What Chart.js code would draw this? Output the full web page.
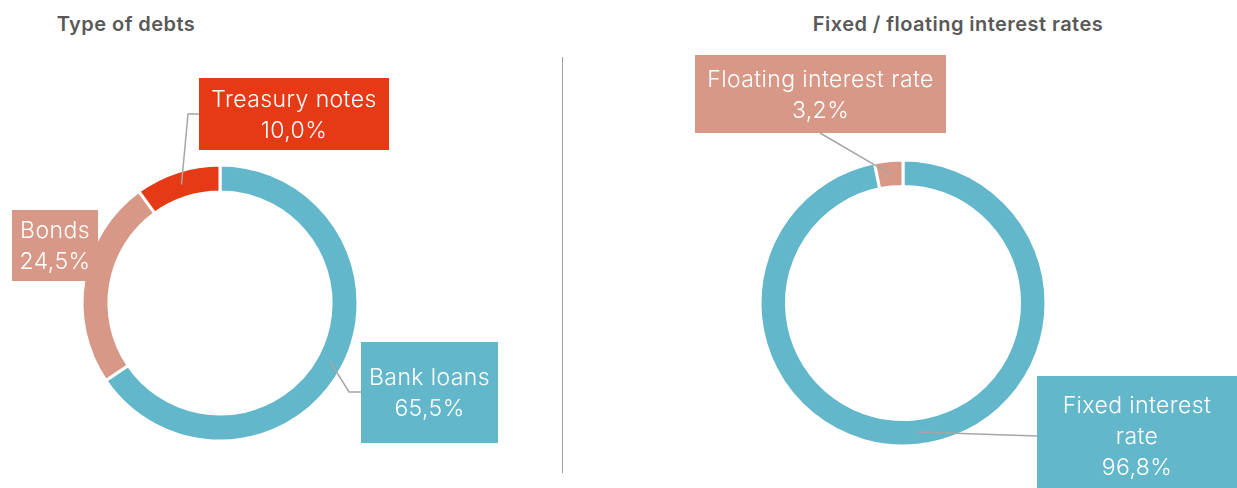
<!DOCTYPE html>
<html>
<head>
<meta charset="utf-8">
<script src="https://cdn.jsdelivr.net/npm/chart.js@4"></script>
<style>
  body { margin: 0; background: #fff; }
  #wrap { position: relative; width: 1237px; height: 488px; overflow: hidden; font-family: Inter, "Noto Sans", sans-serif; }
  .title { position: absolute; top: 12px; font-weight: 600; font-size: 20px; letter-spacing: 0.45px; color: #595959; white-space: nowrap; transform: translateX(-50%); }
  .divider { position: absolute; left: 562px; top: 57px; width: 1px; height: 416px; background: #a0a0a0; }
  .box { position: absolute; top: 0; height: 488px; }
</style>
</head>
<body>
<div id="wrap">
  <div class="title" style="left:126px">Type of debts</div>
  <div class="title" style="left:958px">Fixed / floating interest rates</div>
  <div class="divider"></div>
  <div class="box" style="left:0;width:560px"><canvas id="debtChart"></canvas></div>
  <div class="box" style="left:565px;width:672px"><canvas id="rateChart"></canvas></div>
</div>
<script>
// data
const debtLabels = ['Bank loans', 'Bonds', 'Treasury notes'];
const debtValues = [65.5, 24.5, 10.0];
const rateLabels = ['Fixed interest rate', 'Floating interest rate'];
const rateValues = [96.8, 3.2];

const BLUE = '#63b7cb';
const PINK = '#d89887';
const RED = '#e63a16';

function pct(v) {
    return v.toFixed(1).replace('.', ',') + '%';
}

function wrapText(ctx, text, maxWidth) {
    if (!maxWidth) return [text];
    const words = text.split(' ');
    const lines = [];
    let line = '';
    words.forEach(w => {
        const test = line ? line + ' ' + w : w;
        if (line && ctx.measureText(test).width > maxWidth) {
            lines.push(line);
            line = w;
        } else {
            line = test;
        }
    });
    lines.push(line);
    return lines;
}

// draws the label boxes and the grey leader lines
const calloutPlugin = {
    id: 'callouts',
    afterDatasetsDraw(chart, args, opts) {
        const ctx = chart.ctx;
        const meta = chart.getDatasetMeta(0);
        const ds = chart.data.datasets[0];
        ctx.save();
        opts.items.forEach((b, i) => {
            if (!b.leader) return;
            const p = meta.data[i].tooltipPosition();
            ctx.beginPath();
            ctx.moveTo(p.x, p.y);
            b.leader.forEach(pt => ctx.lineTo(pt[0], pt[1]));
            ctx.strokeStyle = '#a6a6a6';
            ctx.lineWidth = 1.5;
            ctx.stroke();
        });
        opts.items.forEach((b, i) => {
            ctx.fillStyle = ds.backgroundColor[i];
            ctx.fillRect(b.x, b.y, b.w, b.h);
            ctx.font = '300 23px Inter, "Noto Sans", sans-serif';
            ctx.letterSpacing = '0.4px';
            ctx.fillStyle = '#ffffff';
            ctx.textAlign = 'center';
            ctx.textBaseline = 'middle';
            const lines = wrapText(ctx, chart.data.labels[i], b.maxWidth).concat([pct(ds.data[i])]);
            const lh = 31;
            const cx = b.x + b.w / 2;
            const top = b.y + b.h / 2 - (lines.length - 1) * lh / 2 + 1.5;
            lines.forEach((l, k) => ctx.fillText(l, cx, top + k * lh));
        });
        ctx.restore();
    }
};

function makeDoughnut(id, labels, values, colors, radius, cutout, padding, items) {
    new Chart(document.getElementById(id), {
        type: 'doughnut',
        data: {
            labels: labels,
            datasets: [{
                data: values,
                backgroundColor: colors,
                borderColor: '#ffffff',
                borderWidth: 3,
                hoverOffset: 0
            }]
        },
        options: {
            responsive: true,
            maintainAspectRatio: false,
            animation: false,
            events: [],
            radius: radius,
            cutout: cutout,
            layout: { padding: padding },
            plugins: {
                legend: { display: false },
                tooltip: { enabled: false },
                callouts: { items: items }
            }
        },
        plugins: [calloutPlugin]
    });
}

makeDoughnut('debtChart', debtLabels, debtValues, [BLUE, PINK, RED], 138, '80.5%',
    { left: 0, right: 120, top: 118, bottom: 0 },
    [
        { x: 361, y: 342, w: 137, h: 101, leader: [[349, 392], [361, 392]] },
        { x: 12, y: 210, w: 86, h: 71 },
        { x: 199, y: 78, w: 190, h: 72, leader: [[188, 114], [199, 114]] }
    ]);

makeDoughnut('rateChart', rateLabels, rateValues, [BLUE, PINK], 143, '81.5%',
    { left: 100, right: 96, top: 118, bottom: 0 },
    [
        { x: 472, y: 376, w: 200, h: 120, maxWidth: 170, leader: [[472, 436]] },
        { x: 130, y: 55, w: 251, h: 78, leader: [[255, 133]] }
    ]);
</script>
</body>
</html>
